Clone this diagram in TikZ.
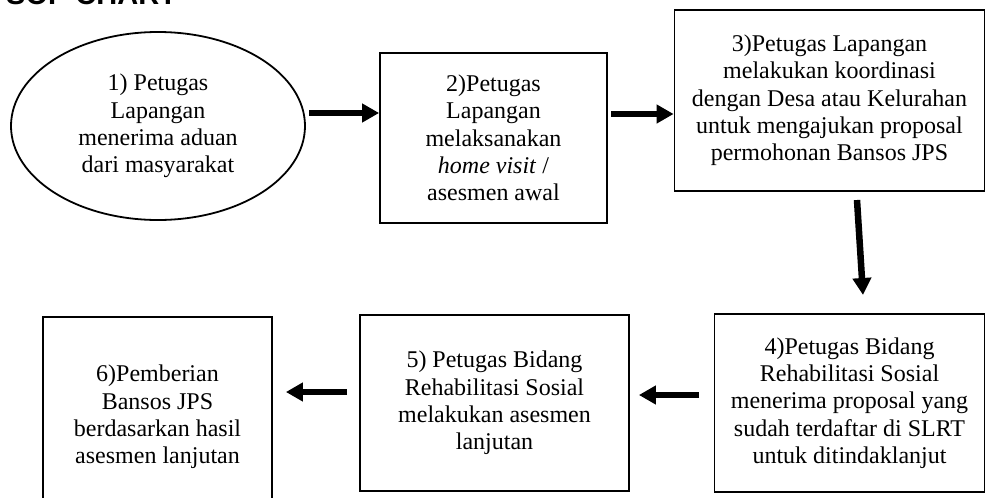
\documentclass[tikz,border=0pt]{standalone}
\usepackage{fontspec}
\setmainfont{Liberation Serif}
\newfontfamily\titlefont{Liberation Sans}
\usetikzlibrary{arrows.meta,shapes.geometric}
\tikzset{
  txt/.style={font=\fontsize{24}{27.3}\selectfont, align=center, inner sep=0pt},
  stepbox/.style={txt, draw, line width=1.8pt, rectangle},
  oval/.style={txt, draw, line width=1.8pt, ellipse},
  arr/.style={line width=6.5pt, -{Triangle[length=17pt,width=18pt]}}
}
\begin{document}
\begin{tikzpicture}[x=1pt,y=-1pt]
\useasboundingbox (0,0) rectangle (986,498);
\begin{scope}
\clip (0,0) rectangle (986,498);
\node[anchor=base west, inner sep=0pt, font=\titlefont\bfseries\fontsize{29}{32}\selectfont] (title) at (6,4) {SOP CHART};
\node[oval, minimum width=294pt, minimum height=188pt] (e1) at (158,126)
  {1) Petugas\\Lapangan\\menerima aduan\\dari masyarakat};
\node[stepbox, minimum width=227pt, minimum height=170pt] (b2) at (493.5,138)
  {2)Petugas\\Lapangan\\melaksanakan\\\textit{home visit} /\\asesmen awal};
\node[stepbox, minimum width=310pt, minimum height=181pt] (b3) at (829.5,100.5)
  {3)Petugas Lapangan\\melakukan koordinasi\\dengan Desa atau Kelurahan\\untuk mengajukan proposal\\permohonan Bansos JPS};
\node[stepbox, minimum width=270pt, minimum height=178pt] (b4) at (849.5,403)
  {4)Petugas Bidang\\Rehabilitasi Sosial\\menerima proposal yang\\sudah terdaftar di SLRT\\untuk ditindaklanjut};
\node[stepbox, minimum width=269pt, minimum height=176pt] (b5) at (494.5,403)
  {5) Petugas Bidang\\Rehabilitasi Sosial\\melakukan asesmen\\lanjutan};
\node[stepbox, minimum width=229pt, minimum height=200pt] (b6) at (157.5,417)
  {6)Pemberian\\Bansos JPS\\berdasarkan hasil\\asesmen lanjutan};
\end{scope}
\coordinate (a1) at (309,113);
\coordinate (a2) at (611,114);
\coordinate (a3s) at (857,200);
\coordinate (a3e) at (863,295);
\coordinate (a4) at (699,395);
\coordinate (a5) at (347,392);
\draw[arr] (a1) -- (a1 -| b2.west);
\draw[arr] (a2) -- (a2 -| b3.west);
\draw[arr] (a3s) -- (a3e);
\draw[arr] (a4) -- ([xshift=9pt]a4 -| b5.east);
\draw[arr] (a5) -- ([xshift=13pt]a5 -| b6.east);
\end{tikzpicture}
\end{document}
